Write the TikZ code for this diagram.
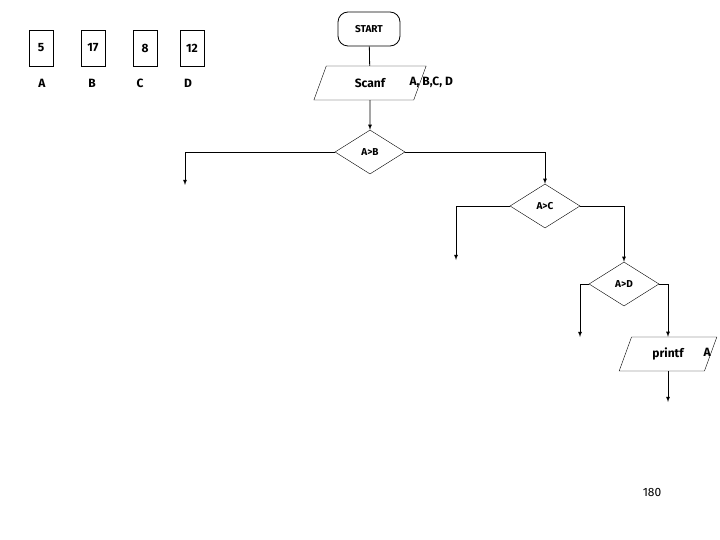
\documentclass[tikz,border=0pt]{standalone}
\usepackage{fontspec}
\setmainfont{Fira Sans}
\usetikzlibrary{shapes.geometric,positioning}
\tikzset{
  val/.style={draw,minimum width=24pt,minimum height=36pt,font=\bfseries\large},
  lbl/.style={font=\bfseries\large},
  dec/.style={draw,diamond,aspect=1.6,inner sep=1pt,minimum width=70pt,minimum height=44pt,font=\bfseries},
  io/.style={draw,trapezium,trapezium left angle=70,trapezium right angle=110,inner sep=2pt,minimum height=34pt,font=\bfseries\large},
  flow/.style={thick,-latex}
}
\begin{document}
\begin{tikzpicture}[x=1pt,y=-1pt]
  \useasboundingbox (0,0) rectangle (720,540);
  % variables
  \node[val] (vA) at (41,48) {5};
  \node[val] (vB) at (93,48) {17};
  \node[val] (vC) at (145,48) {8};
  \node[val] (vD) at (192,48) {12};
  \node[lbl] at (42,83) {A};
  \node[lbl] at (92,83) {B};
  \node[lbl] at (140,83) {C};
  \node[lbl] at (188,83) {D};
  % flow
  \node[draw,thick,rounded corners=10pt,minimum width=62pt,minimum height=34pt,font=\bfseries] (start) at (369,29) {START};
  \node[io] (scan) at (370,83) {Scanf};
  \node[lbl,anchor=west] at (406,82) {A, B,C, D};
  \node[dec] (ab) at (370,152) {A>B};
  \node[dec] (ac) at (545,206) {A>C};
  \node[dec] (ad) at (624,284) {A>D};
  \node[io] (pr) at (668,354) {printf};
  \node[lbl,anchor=west] at (700,352) {A};
  \node[font=\large] at (652,492) {180};
  \coordinate (abL) at (185,185);
  \coordinate (acL) at (456,260);
  \coordinate (adL) at (580,337);
  \coordinate (prE) at (668,402);
  \draw[thick] (start) -- (scan);
  \draw[flow] (scan) -- (ab);
  \draw[flow] (ab.west) -| (abL);
  \draw[flow] (ab.east) -| (ac.north);
  \draw[flow] (ac.west) -| (acL);
  \draw[flow] (ac.east) -| (ad.north);
  \draw[flow] (ad.west) -| (adL);
  \draw[flow] (ad.east) -| (pr.north);
  \draw[flow] (pr) -- (prE);
\end{tikzpicture}
\end{document}
